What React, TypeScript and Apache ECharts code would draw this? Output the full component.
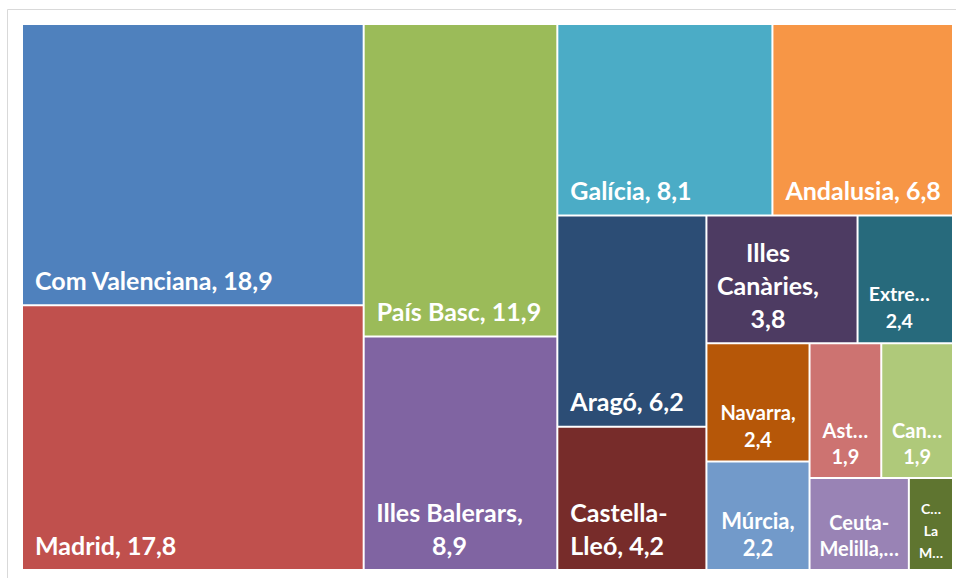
import React, { useEffect, useRef } from "react";
import * as echarts from "echarts";

// Regions (full names) and their share, in the order shown
const regions = [
  "Com Valenciana",
  "Madrid",
  "País Basc",
  "Illes Balerars",
  "Galícia",
  "Andalusia",
  "Aragó",
  "Castella-Lleó",
  "Illes Canàries",
  "Extremadura",
  "Navarra",
  "Múrcia",
  "Astúries",
  "Cantàbria",
  "Ceuta-Melilla",
  "Castella-La Manxa",
];
const values = [18.9, 17.8, 11.9, 8.9, 8.1, 6.8, 6.2, 4.2, 3.8, 2.4, 2.4, 2.2, 1.9, 1.9, 1.8, 0.8];

// How each label is displayed ({n} = name, {v} = value); long names were wrapped / shortened
const labelTemplates = [
  "{n}, {v}",
  "{n}, {v}",
  "{n}, {v}",
  "{n},\n{v}",
  "{n}, {v}",
  "{n}, {v}",
  "{n}, {v}",
  "Castella-\nLleó, {v}",
  "Illes\nCanàries,\n{v}",
  "Extre…\n{v}",
  "{n},\n{v}",
  "{n},\n{v}",
  "Ast…\n{v}",
  "Can…\n{v}",
  "Ceuta-\nMelilla,…",
  "C…\nLa\nM…",
];

const colors = [
  "#4F81BD", "#C0504D", "#9BBB59", "#8064A2", "#4BACC6", "#F79646",
  "#2C4D75", "#772C2A", "#4D3B62", "#276A7C", "#B65708", "#729ACA",
  "#CD7371", "#AFC97A", "#9983B5", "#5F7530",
];

// label size class per cell
const sizeClass = ["L", "L", "L", "L", "L", "L", "L", "L", "L", "X", "N", "M", "S", "S", "S", "T"];
const centered = [false, false, false, true, false, false, false, false, true, true, true, true, true, true, true, true];

const fmt = (v: number) => v.toFixed(1).replace(".", ",");

export default function App() {
  const ref = useRef<HTMLDivElement>(null);
  useEffect(() => {
    if (!ref.current) return;
    const chart = echarts.init(ref.current, null, { renderer: "svg" });
    const sizes: Record<string, { fontSize: number; lineHeight: number; pb: number }> = {
      L: { fontSize: 25, lineHeight: 33, pb: 8 },
      M: { fontSize: 22, lineHeight: 27, pb: 8 },
      N: { fontSize: 20, lineHeight: 27, pb: 8 },
      X: { fontSize: 19.5, lineHeight: 27, pb: 8 },
      S: { fontSize: 20, lineHeight: 26, pb: 8 },
      T: { fontSize: 14, lineHeight: 22, pb: 6 },
    };
    const offsets: Record<number, number[]> = { 3: [-11, 0], 8: [-14, 0], 9: [-6, 0] };
    const data = regions.map((name, i) => {
      const s = sizes[sizeClass[i]];
      const text = labelTemplates[i].replace("{n}", name).replace("{v}", fmt(values[i]));
      return {
        name,
        value: values[i],
        itemStyle: { color: colors[i] },
        label: {
          formatter: () => text,
          position: centered[i] ? "insideBottom" : "insideBottomLeft",
          distance: 0,
          padding: centered[i] ? [0, 0, s.pb, 0] : [0, 0, s.pb, 12],
          fontSize: s.fontSize,
          lineHeight: s.lineHeight,
          align: centered[i] ? "center" : "left",
          offset: offsets[i] || [0, 0],
        },
      };
    });
    chart.setOption({
      animation: false,
      graphic: [
        {
          type: "rect",
          shape: { x: 7.5, y: 9.5, width: 1000, height: 600 },
          style: { fill: "none", stroke: "#d9d9d9", lineWidth: 1 },
          silent: true,
        },
      ],
      series: [
        {
          type: "treemap",
          left: 23,
          top: 25,
          width: 929,
          height: 544,
          sort: false,
          roam: false,
          nodeClick: false,
          squareRatio: 1,
          breadcrumb: { show: false },
          itemStyle: { borderWidth: 0, gapWidth: 2, borderColor: "#ffffff" },
          label: {
            show: true,
            color: "#ffffff",
            fontFamily: "Lato",
            fontWeight: "bold",
          },
          emphasis: { disabled: true },
          data,
        },
      ],
    });
    return () => chart.dispose();
  }, []);
  return (
    <div
      ref={ref}
      style={{ position: "absolute", left: 0, top: 0, width: 956, height: 578, background: "#fff" }}
    />
  );
}
